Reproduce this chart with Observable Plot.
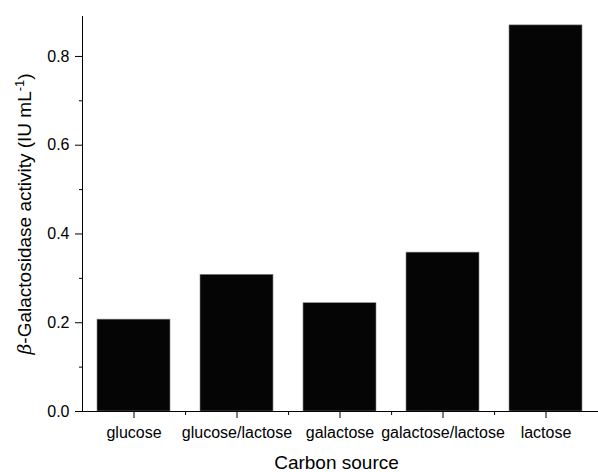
<!DOCTYPE html>
<html>
<head>
<meta charset="utf-8">
<script src="https://cdn.jsdelivr.net/npm/d3@7"></script>
<script src="https://cdn.jsdelivr.net/npm/@observablehq/plot@0.6"></script>
<style>
  html, body { margin: 0; padding: 0; background: #fff; }
  #chart { width: 598px; height: 472px; }
</style>
</head>
<body>
<div id="chart"></div>
<script>
const categories = ["glucose", "glucose/lactose", "galactose", "galactose/lactose", "lactose"];
const values = [0.207, 0.308, 0.244, 0.358, 0.870];
const yMajorTicks = [0, 0.2, 0.4, 0.6, 0.8];
const yMinorTicks = [0.1, 0.3, 0.5, 0.7];
const xTitle = "Carbon source";
const yTitle = "β-Galactosidase activity (IU mL-1)";

const data = categories.map((c, i) => ({source: c, value: values[i]}));

const W = 598, H = 472;
const mL = 82, mR = 0, mT = 16, mB = 61;
const step = (W - mL - mR) / categories.length;

const chart = Plot.plot({
  width: W,
  height: H,
  marginLeft: mL,
  marginRight: mR,
  marginTop: mT,
  marginBottom: mB,
  style: {fontFamily: "'Liberation Sans', Arial, sans-serif", fontSize: "16px", color: "#000", background: "#fff"},
  x: {type: "band", domain: categories, paddingInner: 0.29, paddingOuter: 0.145, align: 0.5},
  y: {domain: [0, 0.89]},
  marks: [
    Plot.barY(data, {x: "source", y: "value", fill: "#050505", stroke: "#888", strokeWidth: 0.6}),
    Plot.axisX({tickSize: 7, tickPadding: 8, fontSize: 16, label: xTitle, labelAnchor: "center", labelOffset: 57}),
    Plot.axisX({ticks: categories.slice(0, -1), tickSize: 4, tickFormat: () => "", dx: step / 2, label: null}),
    Plot.axisY({ticks: yMajorTicks, tickSize: 7, tickPadding: 6, fontSize: 16, tickFormat: d3.format(".1f"),
                label: yTitle, labelAnchor: "center", labelOffset: 65}),
    Plot.axisY({ticks: yMinorTicks, tickSize: 3, tickFormat: () => "", label: null}),
    Plot.frame({anchor: "left", stroke: "#000"}),
    Plot.ruleY([0], {stroke: "#000"})
  ]
});

document.getElementById("chart").appendChild(chart);

// style axis titles (italic beta, superscript)
const svg = d3.select(chart);
svg.selectAll('g[aria-label="x-axis label"] text').attr("font-size", 19).attr("dx", -4);
svg.selectAll('g[aria-label="y-axis label"] text').each(function () {
  const t = d3.select(this);
  t.attr("font-size", 19).text(null);
  t.append("tspan").attr("font-style", "italic").attr("font-family", "'DejaVu Serif', serif").text("β");
  t.append("tspan").text("-Galactosidase activity (IU mL");
  t.append("tspan").attr("font-size", 13).attr("dy", -7).text("-1");
  t.append("tspan").attr("dy", 7).text(")");
});
</script>
</body>
</html>
